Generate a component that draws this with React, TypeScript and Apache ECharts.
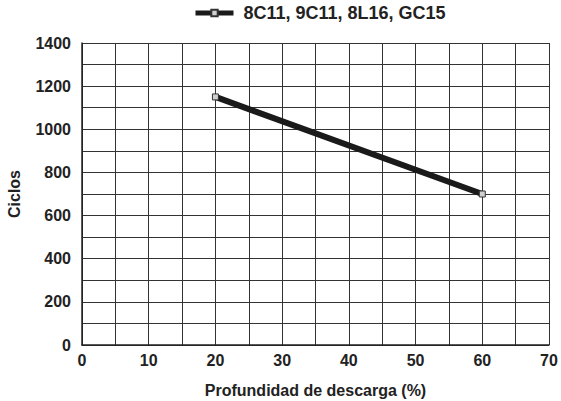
import React, { useEffect, useRef } from "react";
import * as echarts from "echarts";

const seriesName = "8C11, 9C11, 8L16, GC15";
const depthPct = [20, 60];
const cycles = [1150, 700];
const xTicks = [0, 10, 20, 30, 40, 50, 60, 70];
const yTicks = [0, 200, 400, 600, 800, 1000, 1200, 1400];

export default function App() {
  const ref = useRef<HTMLDivElement>(null);
  useEffect(() => {
    const chart = echarts.init(ref.current!, undefined, { renderer: "svg" });
    const txt = "#222";
    chart.setOption({
      animation: false,
      textStyle: { fontFamily: "Liberation Sans, Arial, sans-serif" },
      legend: {
        top: -1,
        left: 188,
        itemWidth: 38,
        itemHeight: 8,
        lineStyle: { width: 5, color: "#1a1a1a" },
        textStyle: {
          fontFamily: "Liberation Sans, Arial",
          fontWeight: "bold",
          fontSize: 18,
          color: txt,
          padding: [0, 0, 0, 5],
        },
        data: [{ name: seriesName }],
      },
      grid: {
        left: 82,
        right: 12,
        top: 43,
        bottom: 56,
        containLabel: false,
        outerBoundsMode: "none",
      },
      xAxis: {
        type: "value",
        min: 0,
        max: 70,
        interval: 5,
        name: "Profundidad de descarga (%)",
        nameLocation: "middle",
        nameGap: 37,
        nameTextStyle: { fontWeight: "bold", fontSize: 16, color: txt },
        axisLine: { show: true, lineStyle: { color: "#222", width: 1.5 } },
        axisTick: { show: false },
        axisLabel: {
          fontWeight: "bold",
          fontSize: 16,
          color: txt,
          margin: 7,
          formatter: (v: number) => (xTicks.includes(v) ? String(v) : ""),
        },
        splitLine: { show: true, lineStyle: { color: "#333", width: 1 } },
      },
      yAxis: {
        type: "value",
        min: 0,
        max: 1400,
        interval: 100,
        name: "Ciclos",
        nameLocation: "middle",
        nameGap: 60,
        nameTextStyle: { fontWeight: "bold", fontSize: 16, color: txt },
        axisLine: { show: true, lineStyle: { color: "#222", width: 1.5 } },
        axisTick: { show: false },
        axisLabel: {
          fontWeight: "bold",
          fontSize: 16,
          color: txt,
          margin: 11,
          formatter: (v: number) => (yTicks.includes(v) ? String(v) : ""),
        },
        splitLine: { show: true, lineStyle: { color: "#333", width: 1 } },
      },
      series: [
        {
          name: seriesName,
          type: "line",
          data: depthPct.map((x, i) => [x, cycles[i]]),
          symbol: "rect",
          symbolSize: 6,
          itemStyle: { color: "#d0d0d0", borderColor: "#333", borderWidth: 1 },
          lineStyle: { color: "#1a1a1a", width: 6 },
          z: 5,
        },
      ],
    });
    return () => chart.dispose();
  }, []);
  return (
    <div
      ref={ref}
      style={{ position: "absolute", left: 0, top: 0, width: 561, height: 401 }}
    />
  );
}
